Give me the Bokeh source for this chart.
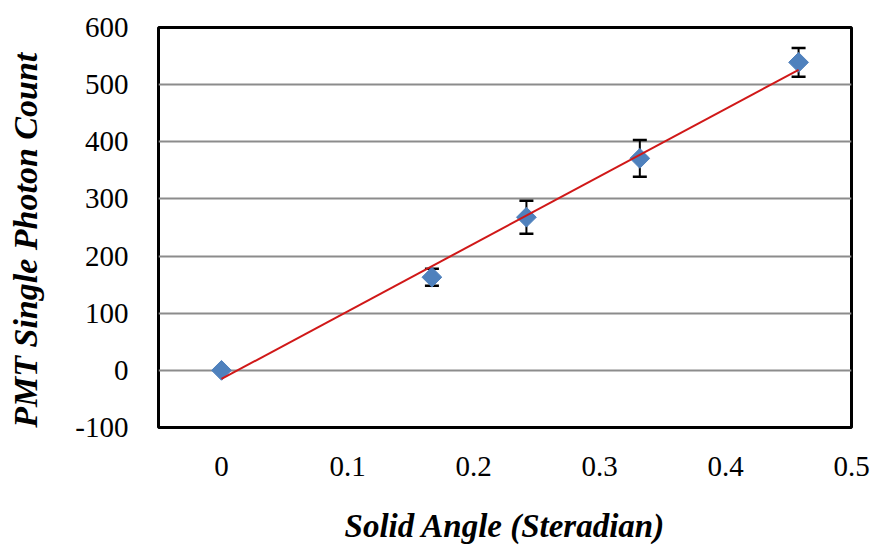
import math
from bokeh.plotting import figure
from bokeh.models import ColumnDataSource, Whisker, TeeHead, Range1d, FixedTicker
from bokeh.embed import file_html
from bokeh.resources import INLINE

solid_angle = [0.0, 0.167, 0.242, 0.332, 0.458]
photon_count = [0, 163, 268, 371, 539]
count_error = [0, 15, 29, 32, 25]
fit_x = [0.0, 0.458]
fit_y = [-15, 526]

x_ticks = [0, 0.1, 0.2, 0.3, 0.4, 0.5]
y_ticks = [-100, 0, 100, 200, 300, 400, 500, 600]

p = figure(width=870, height=548, output_backend="svg", toolbar_location=None,
           x_range=Range1d(-0.05, 0.5), y_range=Range1d(-100, 600),
           min_border_left=158, min_border_right=19, min_border_top=27, min_border_bottom=121)

p.outline_line_color = "black"
p.outline_line_width = 3
p.background_fill_color = "white"
p.border_fill_color = "white"

p.xgrid.visible = False
p.ygrid.ticker = FixedTicker(ticks=y_ticks)
p.ygrid.grid_line_color = "#8c8c8c"
p.ygrid.grid_line_width = 2

for ax in (p.xaxis[0], p.yaxis[0]):
    ax.axis_line_color = None
    ax.major_tick_line_color = None
    ax.minor_tick_line_color = None
    ax.major_tick_out = 0
    ax.major_tick_in = 0
    ax.major_label_text_font = "Liberation Serif"
    ax.major_label_text_font_size = "29px"
    ax.major_label_text_color = "black"
    ax.axis_label_text_font = "Liberation Serif"
    ax.axis_label_text_font_style = "bold italic"
    ax.axis_label_text_color = "black"

p.xaxis.axis_label_text_font_size = "33px"
p.yaxis.axis_label_text_font_size = "34px"
p.xaxis.ticker = FixedTicker(ticks=x_ticks)
p.yaxis.ticker = FixedTicker(ticks=y_ticks)
p.yaxis.major_label_overrides = {-100: "-100"}
p.xaxis.major_label_overrides = {0: "0", 0.1: "0.1", 0.2: "0.2", 0.3: "0.3", 0.4: "0.4", 0.5: "0.5"}
p.xaxis.axis_label = "Solid Angle (Steradian)"
p.yaxis.axis_label = "PMT Single Photon Count" + "\u00a0" * 3
p.yaxis.major_label_standoff = 30
p.xaxis.major_label_standoff = 29
p.yaxis.axis_label_standoff = 28
p.xaxis.axis_label_standoff = 29

src = ColumnDataSource(dict(
    x=solid_angle, y=photon_count,
    upper=[v + e for v, e in zip(photon_count, count_error)],
    lower=[v - e for v, e in zip(photon_count, count_error)],
))

w = Whisker(source=src, base="x", upper="upper", lower="lower", dimension="height",
            line_color="black", line_width=2,
            upper_head=TeeHead(size=14, line_color="black", line_width=2.5),
            lower_head=TeeHead(size=14, line_color="black", line_width=2.5))
p.add_layout(w)

p.scatter("x", "y", source=src, marker="square", angle=math.pi / 4, size=14,
          fill_color="#4F81BD", line_color="#4F81BD", line_width=1)

p.line(fit_x, fit_y, line_color="#D01818", line_width=2)

open("out.html", "w").write(file_html(p, INLINE))
